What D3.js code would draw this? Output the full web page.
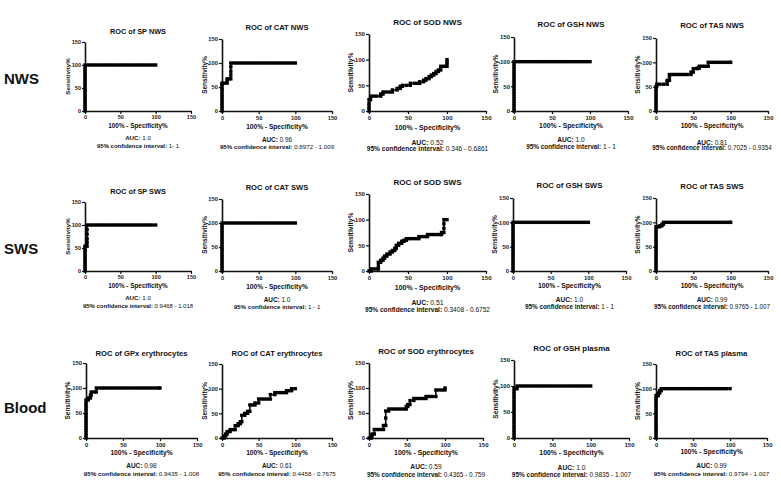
<!DOCTYPE html>
<html><head><meta charset="utf-8">
<script src="https://cdn.jsdelivr.net/npm/d3@7"></script>
<style>
html,body{margin:0;padding:0;background:#fff;}
svg{display:block;font-family:"Liberation Sans",Arial,Helvetica,sans-serif;}
</style></head>
<body>
<svg id="chart" width="781" height="489"></svg>
<script>
// ---------------- DATA ----------------
const rowLabels = ["NWS", "SWS", "Blood"];
const panelTitles = [
  "ROC of SP NWS", "ROC of CAT NWS", "ROC of SOD NWS", "ROC of GSH NWS", "ROC of TAS NWS",
  "ROC of SP SWS", "ROC of CAT SWS", "ROC of SOD SWS", "ROC of GSH SWS", "ROC of TAS SWS",
  "ROC of GPx erythrocytes", "ROC of CAT erythrocytes", "ROC of SOD erythrocytes", "ROC of GSH plasma", "ROC of TAS plasma"
];
const aucValues = ["1.0","0.96","0.52","1.0","0.81", "1.0","1.0","0.51","1.0","0.99", "0.98","0.61","0.59","1.0","0.99"];
const ciValues = [
  "1- 1","0.8972 - 1.009","0.346 - 0.6861","1 - 1","0.7025 - 0.9354",
  "0.9468 - 1.018","1 - 1","0.3408 - 0.6752","1 - 1","0.9765 - 1.007",
  "0.9435 - 1.008","0.4458 - 0.7675","0.4365 - 0.759","0.9835 - 1.007","0.9794 - 1.007"
];
const axisTicks = [0, 50, 100, 150];
const xTitle = "100% - Specificity%";
const yTitle = "Sensitivity%";

// ROC points [100% - specificity, sensitivity]
const rocPerfect = [[0,0],[0,5],[0,10],[0,15],[0,20],[0,25],[0,30],[0,35],[0,40],[0,45],[0,50],[0,55],[0,60],[0,65],[0,70],[0,75],[0,80],[0,85],[0,90],[0,95],
  [0,100],[4,100],[8,100],[12,100],[16,100],[20,100],[24,100],[28,100],[32,100],[36,100],[40,100],[44,100],[48,100],[52,100],[56,100],[60,100],[64,100],[68,100],[72,100],[76,100],[80,100],[84,100],[88,100],[92,100],[96,100],[100,100]];
const rocCatNws = [[0,0],[0,5],[0,10],[0,15],[0,20],[0,25],[0,30],[0,35],[0,40],[0,45],[0,50],[0,55],[0,58],[3,58],[7,58],[7,63],[7,67],[10,67],[12,67],[12,75],[12,83],[12,92],[12,100],
  [16,100],[20,100],[24,100],[28,100],[32,100],[36,100],[40,100],[44,100],[48,100],[52,100],[56,100],[60,100],[64,100],[68,100],[72,100],[76,100],[80,100],[84,100],[88,100],[92,100],[96,100],[100,100]];
const rocSodNws = [[0,0],[0,5],[0,10],[0,15],[0,22],[2,22],[2,29],[6,29],[10,29],[15,29],[15,33],[18,33],[18,37],[22,37],[26,37],[30,37],[30,41],[36,41],[36,44],[40,44],[40,48],[43,48],[43,50],[48,50],[53,50],[53,54],[58,54],[62,54],[65,54],[65,57],[70,57],[70,60],[73,60],[73,63],[77,63],[77,67],[80,67],[80,70],[83,70],[83,73],[86,73],[86,77],[89,77],[89,80],[92,80],[92,87],[95,87],[98,87],[100,87],[100,92],[100,96],[100,100]];
const rocTasNws = [[0,0],[0,5],[0,10],[0,15],[0,20],[0,25],[0,30],[0,35],[0,40],[0,45],[0,50],[1,50],[1,55],[5,55],[10,55],[15,55],[15,60],[15,63],[18,63],[18,70],[18,75],[22,75],[26,75],[30,75],[34,75],[38,75],[42,75],[47,75],[47,80],[50,80],[50,87],[55,87],[55,88],[58,88],[58,92],[62,92],[66,92],[70,92],[70,100],[74,100],[78,100],[82,100],[86,100],[90,100],[94,100],[98,100],[100,100]];
const rocSpSws = [[0,0],[0,5],[0,10],[0,15],[0,20],[0,25],[0,30],[0,35],[0,40],[0,45],[0,50],[0,54],[3,54],[3,62],[3,70],[3,80],[3,90],[3,100],
  [7,100],[11,100],[15,100],[19,100],[23,100],[27,100],[31,100],[35,100],[39,100],[43,100],[47,100],[51,100],[55,100],[59,100],[63,100],[67,100],[71,100],[75,100],[79,100],[83,100],[87,100],[91,100],[95,100],[100,100]];
const rocSodSws = [[0,0],[3,0],[3,4],[6,4],[10,4],[12,4],[12,10],[12,17],[15,17],[15,21],[18,21],[18,25],[20,25],[20,29],[23,29],[23,33],[27,33],[27,37],[30,37],[30,40],[33,40],[33,44],[35,44],[35,50],[38,50],[38,54],[42,54],[42,58],[45,58],[45,60],[48,60],[48,63],[52,63],[56,63],[60,63],[64,63],[64,67],[68,67],[72,67],[75,67],[75,71],[79,71],[83,71],[87,71],[91,71],[93,71],[93,75],[96,75],[96,83],[96,92],[96,100],[100,100]];
const rocTasSws = [[0,0],[0,5],[0,10],[0,15],[0,20],[0,25],[0,30],[0,35],[0,40],[0,45],[0,50],[0,55],[0,60],[0,65],[0,70],[0,75],[0,80],[0,85],[0,91],[3,91],[5,91],[5,93],[8,93],[8,96],[10,96],[10,100],
  [14,100],[18,100],[22,100],[26,100],[30,100],[34,100],[38,100],[42,100],[46,100],[50,100],[54,100],[58,100],[62,100],[66,100],[70,100],[74,100],[78,100],[82,100],[86,100],[90,100],[94,100],[98,100],[100,100]];
const rocGpxEry = [[0,0],[0,5],[0,10],[0,15],[0,20],[0,25],[0,30],[0,35],[0,40],[0,45],[0,50],[0,55],[0,60],[0,65],[0,70],[0,76],[3,76],[3,80],[6,80],[6,86],[7,86],[7,92],[11,92],[14,92],[14,100],
  [18,100],[22,100],[26,100],[30,100],[34,100],[38,100],[42,100],[46,100],[50,100],[54,100],[58,100],[62,100],[66,100],[70,100],[74,100],[78,100],[82,100],[86,100],[90,100],[94,100],[98,100],[100,100]];
const rocCatEry = [[0,0],[3,0],[3,4],[5,4],[5,8],[7,8],[7,13],[11,13],[11,17],[15,17],[18,17],[18,25],[22,25],[22,29],[25,29],[25,33],[27,33],[27,46],[31,46],[31,50],[35,50],[35,54],[38,54],[38,67],[42,67],[45,67],[45,71],[50,71],[50,79],[54,79],[58,79],[62,79],[66,79],[66,88],[72,88],[72,92],[76,92],[80,92],[84,92],[88,92],[88,96],[92,96],[95,96],[95,100],[100,100]];
const rocSodEry = [[0,0],[3,0],[3,4],[4,4],[4,8],[7,8],[7,17],[11,17],[15,17],[19,17],[19,25],[22,25],[22,40],[22,54],[26,54],[26,58],[30,58],[34,58],[38,58],[42,58],[46,58],[49,58],[49,63],[51,63],[51,67],[54,67],[54,75],[59,75],[59,79],[63,79],[67,79],[71,79],[75,79],[75,83],[79,83],[83,83],[88,83],[88,96],[92,96],[96,96],[100,96],[100,100]];
const rocGshPlasma = [[0,0],[0,5],[0,10],[0,15],[0,20],[0,25],[0,30],[0,35],[0,40],[0,45],[0,50],[0,55],[0,60],[0,65],[0,70],[0,75],[0,80],[0,85],[0,90],[0,95],[2,95],[4,95],[4,100],
  [8,100],[12,100],[16,100],[20,100],[24,100],[28,100],[32,100],[36,100],[40,100],[44,100],[48,100],[52,100],[56,100],[60,100],[64,100],[68,100],[72,100],[76,100],[80,100],[84,100],[88,100],[92,100],[96,100],[100,100]];
const rocTasPlasma = [[0,0],[0,5],[0,10],[0,15],[0,20],[0,25],[0,30],[0,35],[0,40],[0,45],[0,50],[0,55],[0,60],[0,65],[0,70],[0,75],[0,80],[0,86],[2,86],[3,86],[3,91],[5,91],[5,96],[7,96],[7,100],
  [11,100],[15,100],[19,100],[23,100],[27,100],[31,100],[35,100],[39,100],[43,100],[47,100],[51,100],[55,100],[59,100],[63,100],[67,100],[71,100],[75,100],[79,100],[83,100],[87,100],[91,100],[95,100],[100,100]];

const curves = [
  rocPerfect, rocCatNws, rocSodNws, rocPerfect, rocTasNws,
  rocSpSws, rocPerfect, rocSodSws, rocPerfect, rocTasSws,
  rocGpxEry, rocCatEry, rocSodEry, rocGshPlasma, rocTasPlasma
];

// ---------------- LAYOUT (pixel placement of each panel) ----------------
// x0: y-axis x, w: width of 0..150, y0: x-axis y, h: height of 0..150, t/xl/a/c: text centre y
const layout = [
  {x0:85, w:106, y0:111, h:69, t:31, xl:126, a:138, c:146},
  {x0:222,w:110, y0:111, h:72, t:27, xl:127, a:140, c:147},
  {x0:369,w:117, y0:111, h:77, t:22, xl:127, a:143, c:149},
  {x0:514,w:114, y0:111, h:74, t:24, xl:126, a:140, c:147},
  {x0:656,w:112, y0:111, h:73, t:25, xl:126, a:142.5, c:148},
  {x0:85, w:106, y0:271, h:69, t:191, xl:286, a:298, c:306},
  {x0:222,w:110, y0:271, h:72, t:187, xl:287, a:300, c:307},
  {x0:369,w:117, y0:271, h:77, t:182, xl:287, a:303, c:310},
  {x0:513,w:113, y0:271, h:73, t:185, xl:286, a:300, c:307},
  {x0:656,w:112, y0:271, h:73, t:186, xl:286, a:300, c:307},
  {x0:86, w:111, y0:438, h:75, t:353, xl:453, a:466, c:474},
  {x0:222,w:110, y0:438, h:74, t:353, xl:453, a:466, c:474},
  {x0:369,w:114, y0:438, h:75, t:351, xl:453, a:467, c:475},
  {x0:514,w:115, y0:438, h:78, t:348, xl:453, a:468, c:475},
  {x0:656,w:111, y0:438, h:74, t:353, xl:452, a:466, c:474}
];
const rowLabelY = [79, 249, 408];

// ---------------- DRAW ----------------
const svg = d3.select("#chart");

svg.selectAll("text.row").data(rowLabels).join("text")
  .attr("class","row")
  .attr("x", 4).attr("y", (d,i)=>rowLabelY[i] + 5.3)
  .attr("font-size", 15).attr("font-weight","bold").attr("fill","#111")
  .text(d=>d);

panelTitles.forEach((title, i) => {
  const L = layout[i];
  const s = L.w / 110;
  const x = d3.scaleLinear().domain([0,150]).range([L.x0, L.x0 + L.w]);
  const y = d3.scaleLinear().domain([0,150]).range([L.y0, L.y0 - L.h]);
  const g = svg.append("g");
  const cx = L.x0 + L.w/2;

  // axes
  const ax = g.append("g").attr("transform", `translate(0,${L.y0})`)
    .call(d3.axisBottom(x).tickValues(axisTicks).tickSize(3).tickPadding(1.5).tickSizeOuter(0));
  const ay = g.append("g").attr("transform", `translate(${L.x0},0)`)
    .call(d3.axisLeft(y).tickValues(axisTicks).tickSize(3).tickPadding(1).tickSizeOuter(0));
  [ax, ay].forEach(a => {
    a.select(".domain").attr("stroke","#111").attr("stroke-width",1.6);
    a.selectAll(".tick line").attr("stroke","#111").attr("stroke-width",1.2);
    a.selectAll(".tick text").attr("font-size", 5.8*s).attr("font-weight","bold")
      .attr("font-family","Liberation Sans, Arial, sans-serif").attr("fill","#222");
  });

  // curve
  const pts = curves[i];
  g.append("path").datum(pts)
    .attr("d", d3.line().x(d=>x(d[0])).y(d=>y(d[1])))
    .attr("fill","none").attr("stroke","#000").attr("stroke-width",1.6).attr("stroke-linejoin","miter");
  g.selectAll("rect.pt").data(pts).join("rect")
    .attr("class","pt")
    .attr("x", d=>x(d[0]) - 1.7).attr("y", d=>y(d[1]) - 1.7)
    .attr("width", 3.4).attr("height", 3.4).attr("fill","#000");

  // texts
  const fs = 7.6*s;
  g.append("text").attr("x", cx).attr("y", L.t + fs*0.36)
    .attr("text-anchor","middle").attr("font-size", fs).attr("font-weight","bold").attr("fill","#111")
    .text(title);
  g.append("text").attr("x", cx).attr("y", L.xl + 6.6*s*0.36)
    .attr("text-anchor","middle").attr("font-size", 6.6*s).attr("font-weight","bold").attr("fill","#111")
    .text(xTitle);
  g.append("text")
    .attr("transform", `translate(${L.x0 - 15.5*s},${L.y0 - L.h/2}) rotate(-90)`)
    .attr("text-anchor","middle").attr("font-size", 6.4*s).attr("font-weight","bold").attr("fill","#111")
    .text(yTitle);
  const t1 = g.append("text").attr("x", cx).attr("y", L.a + 6.4*s*0.36)
    .attr("text-anchor","middle").attr("font-size", 6.4*s).attr("fill","#111");
  t1.append("tspan").attr("font-weight","bold").text("AUC: ");
  t1.append("tspan").text(aucValues[i]);
  const t2 = g.append("text").attr("x", cx).attr("y", L.c + 6.4*s*0.36)
    .attr("text-anchor","middle").attr("font-size", 6.2*s).attr("fill","#111");
  t2.append("tspan").attr("font-weight","bold").text("95% confidence interval: ");
  t2.append("tspan").text(ciValues[i]);
});
</script>
</body></html>
